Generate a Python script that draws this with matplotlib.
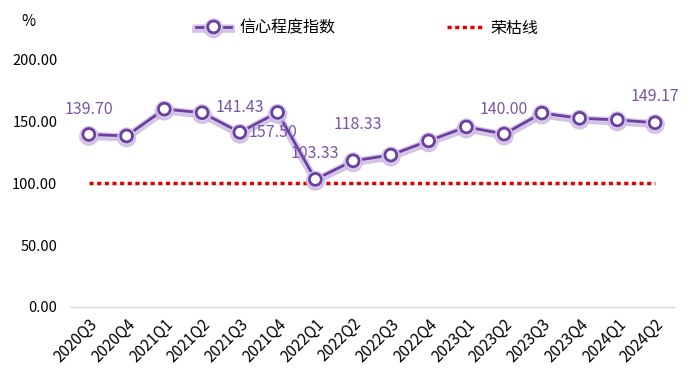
import matplotlib
matplotlib.use('Agg')
import matplotlib.pyplot as plt
import matplotlib.patheffects as pe
from matplotlib.lines import Line2D

plt.rcParams['font.family'] = ['Noto Sans CJK SC', 'DejaVu Sans']

# data
quarters = ['2020Q3', '2020Q4', '2021Q1', '2021Q2', '2021Q3', '2021Q4',
            '2022Q1', '2022Q2', '2022Q3', '2022Q4', '2023Q1', '2023Q2',
            '2023Q3', '2023Q4', '2024Q1', '2024Q2']
confidence = [139.70, 138.5, 160.2, 157.3, 141.43, 157.50,
              103.33, 118.33, 123.0, 134.5, 145.8, 140.00,
              157.0, 152.8, 151.5, 149.17]
boom_line = [100.0] * len(quarters)
# which points carry a value label, and the label offset in pixels
label_idx = [0, 4, 5, 6, 7, 11, 15]
label_dx = [0, 0, -5, 0, 5, 0, 0]
label_dy = [25, 25, -20, 26, 36, 25, 26]

purple = '#6B3FA0'
label_color = '#7D55A5'
red = '#E00000'

fig = plt.figure(figsize=(6.9, 3.89), dpi=100)
ax = fig.add_axes([0.1014, 0.2108, 0.8754, 0.635])

x = list(range(len(quarters)))

ax.plot(x, boom_line, color=red, lw=2.5, dashes=(1.2, 1.0), zorder=2)

glow = [pe.SimpleLineShadow(offset=(0, -1.2), shadow_color='#c9b6df',
                            alpha=0.8, linewidth=5.5),
        pe.Stroke(linewidth=4, foreground='#d9cbe8'), pe.Normal()]
ax.plot(x, confidence, color=purple, lw=2.0, marker='o', ms=8.5,
        mfc='white', mec=purple, mew=2.0, zorder=3, path_effects=glow)

for i, dx, dy in zip(label_idx, label_dx, label_dy):
    ax.annotate('%.2f' % confidence[i], (x[i], confidence[i]),
                xytext=(dx * 0.72, dy * 0.72), textcoords='offset points',
                ha='center', va='center', fontsize=11.5, color=label_color,
                zorder=4)

ax.set_xlim(-0.5, len(quarters) - 0.5)
ax.set_ylim(0, 200)
ax.set_yticks([0, 50, 100, 150, 200])
ax.set_yticklabels(['%.2f' % v for v in [0, 50, 100, 150, 200]])
ax.set_xticks(x)
ax.set_xticklabels(quarters, rotation=45, ha='right', va='top',
                   rotation_mode='anchor')
ax.tick_params(axis='both', length=0, labelsize=10.5, colors='black')
ax.tick_params(axis='x', pad=6, labelsize=11)
ax.tick_params(axis='y', pad=9)
for s in ['top', 'right', 'left']:
    ax.spines[s].set_visible(False)
ax.spines['bottom'].set_color('#D9D9D9')
ax.spines['bottom'].set_linewidth(1)

fig.text(0.041, 0.945, '%', fontsize=11, ha='center', va='center')

h1 = Line2D([], [], color=purple, lw=2.0, marker='o', ms=8.5, mfc='white',
            mec=purple, mew=2.0, path_effects=glow)
h2 = Line2D([], [], color=red, lw=2.5, dashes=(1.2, 1.0))
fig.legend([h1, h2], ['信心程度指数', '荣枯线'], loc='center',
           bbox_to_anchor=(0.532, 0.928), ncol=2, frameon=False,
           fontsize=11.5, columnspacing=7, handlelength=2.2, handletextpad=0.5)

fig.savefig('out.png', dpi=100, facecolor='white')
